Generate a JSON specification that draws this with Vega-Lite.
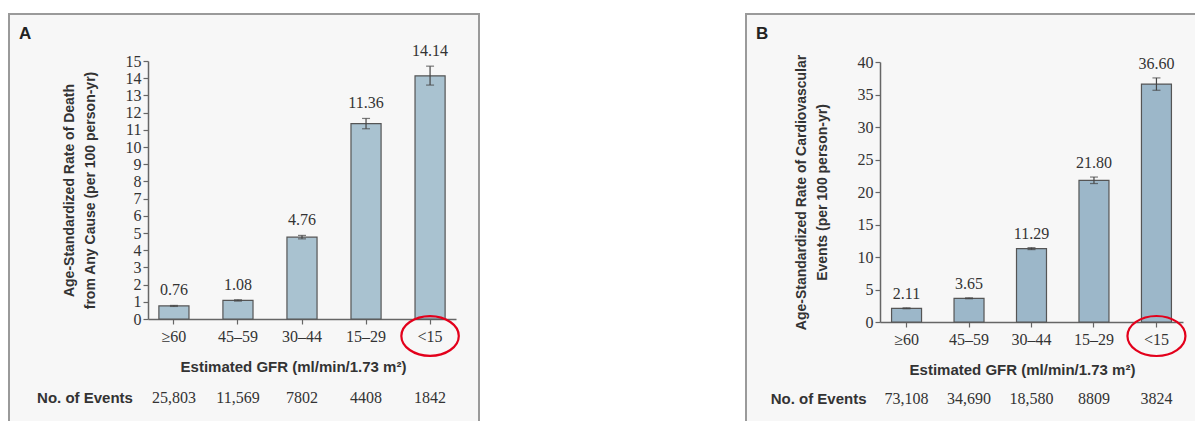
{
  "$schema": "https://vega.github.io/schema/vega-lite/v6.json",
  "background": "white",
  "padding": {"left": 8, "top": 13, "right": 0, "bottom": 0},
  "spacing": 265,
  "datasets": {
    "death": [
      {"gfr": "≥60", "rate": 0.76, "lo": 0.73, "hi": 0.79, "events": "25,803"},
      {"gfr": "45–59", "rate": 1.08, "lo": 1.04, "hi": 1.12, "events": "11,569"},
      {"gfr": "30–44", "rate": 4.76, "lo": 4.66, "hi": 4.86, "events": "7802"},
      {"gfr": "15–29", "rate": 11.36, "lo": 11.06, "hi": 11.66, "events": "4408"},
      {"gfr": "<15", "rate": 14.14, "lo": 13.6, "hi": 14.7, "events": "1842"}
    ],
    "cv": [
      {"gfr": "≥60", "rate": 2.11, "lo": 2.04, "hi": 2.18, "events": "73,108"},
      {"gfr": "45–59", "rate": 3.65, "lo": 3.58, "hi": 3.72, "events": "34,690"},
      {"gfr": "30–44", "rate": 11.29, "lo": 11.14, "hi": 11.44, "events": "18,580"},
      {"gfr": "15–29", "rate": 21.8, "lo": 21.3, "hi": 22.3, "events": "8809"},
      {"gfr": "<15", "rate": 36.6, "lo": 35.65, "hi": 37.55, "events": "3824"}
    ]
  },
  "config": {
    "font": "Liberation Sans",
    "axis": {
      "labelFont": "Liberation Serif", "labelFontSize": 16, "labelColor": "#333",
      "titleFont": "Liberation Sans", "titleFontSize": 14, "titleFontWeight": "bold", "titleColor": "#333",
      "domainColor": "#666", "tickColor": "#666", "domainWidth": 1.5, "tickWidth": 1.2, "grid": false
    }
  },
  "hconcat": [
    {
      "width": 470, "height": 408,
      "view": {"fill": "#f7f7f7", "stroke": "#9a9a9a", "strokeWidth": 2},
      "title": {"text": "A", "anchor": "start", "frame": "group", "offset": -29, "dx": 10, "fontSize": 17, "fontWeight": "bold", "color": "#222", "font": "Liberation Sans"},
      "data": {"name": "death"},
      "encoding": {
        "x": {
          "field": "gfr", "type": "nominal", "sort": null,
          "scale": {"range": [139, 447], "paddingInner": 0.53, "paddingOuter": 0.17},
          "axis": {"title": "Estimated GFR (ml/min/1.73 m²)", "offset": -103, "labelAngle": 0, "tickSize": 5, "labelPadding": 4, "bandPosition": 0.5,
                   "titleX": 284, "titleY": 47, "titleBaseline": "middle", "titleAlign": "center", "titleFontSize": 15}
        }
      },
      "layer": [
        {
          "mark": {"type": "bar", "fill": "#a9c2d0", "stroke": "#555", "strokeWidth": 1.2},
          "encoding": {
            "y": {"field": "rate", "type": "quantitative",
                  "scale": {"domain": [0, 15], "range": [305, 47], "nice": false},
                  "axis": {"title": ["Age-Standardized Rate of Death", "from Any Cause (per 100 person-yr)"], "offset": -139,
                           "values": [0,1,2,3,4,5,6,7,8,9,10,11,12,13,14,15], "tickCount": 20, "labelOverlap": false, "tickSize": 5, "labelPadding": 2, "titlePadding": 28, "titleLineHeight": 21}}
          }
        },
        {"mark": {"type": "rule", "color": "#444", "strokeWidth": 1.2},
         "encoding": {"y": {"field": "lo", "type": "quantitative"}, "y2": {"field": "hi"}}},
        {"mark": {"type": "tick", "color": "#444", "size": 8, "thickness": 1.2},
         "encoding": {"y": {"field": "hi", "type": "quantitative"}}},
        {"mark": {"type": "tick", "color": "#444", "size": 8, "thickness": 1.2},
         "encoding": {"y": {"field": "lo", "type": "quantitative"}}},
        {"mark": {"type": "text", "baseline": "middle", "dy": -15, "font": "Liberation Serif", "fontSize": 16, "color": "#333"},
         "encoding": {"y": {"field": "hi", "type": "quantitative"}, "text": {"field": "rate", "type": "quantitative", "format": ".2f"}}},
        {"mark": {"type": "text", "baseline": "middle", "dy": 79, "font": "Liberation Serif", "fontSize": 16, "color": "#333"},
         "encoding": {"y": {"datum": 0}, "text": {"field": "events", "type": "nominal"}}},
        {"data": {"values": [{"gfr": "≥60", "label": "No. of Events"}]},
         "mark": {"type": "text", "align": "right", "baseline": "middle", "dx": -41, "dy": 79, "font": "Liberation Sans", "fontWeight": "bold", "fontSize": 15, "color": "#333"},
         "encoding": {"y": {"datum": 0}, "text": {"field": "label", "type": "nominal"}}},
        {"data": {"values": [{"gfr": "<15", "note": "highlighted"}]},
         "mark": {"type": "point", "shape": "M -1 0 C -1 -0.381 -0.5523 -0.69 0 -0.69 C 0.5523 -0.69 1 -0.381 1 0 C 1 0.381 0.5523 0.69 0 0.69 C -0.5523 0.69 -1 0.381 -1 0 Z",
                  "size": 3300, "filled": false, "color": "#e3001b", "strokeWidth": 2.2, "opacity": 1, "yOffset": 17},
         "encoding": {"y": {"datum": 0}}}
      ]
    },
    {
      "width": 452, "height": 408,
      "view": {"fill": "#f7f7f7", "stroke": "#9a9a9a", "strokeWidth": 2},
      "title": {"text": "B", "anchor": "start", "frame": "group", "offset": -29, "dx": 10, "fontSize": 17, "fontWeight": "bold", "color": "#222", "font": "Liberation Sans"},
      "data": {"name": "cv"},
      "encoding": {
        "x": {
          "field": "gfr", "type": "nominal", "sort": null,
          "scale": {"range": [134, 437], "paddingInner": 0.52, "paddingOuter": 0.185},
          "axis": {"title": "Estimated GFR (ml/min/1.73 m²)", "offset": -100, "labelAngle": 0, "tickSize": 5, "labelPadding": 4, "bandPosition": 0.5,
                   "titleX": 276, "titleY": 47, "titleBaseline": "middle", "titleAlign": "center", "titleFontSize": 15}
        }
      },
      "layer": [
        {
          "mark": {"type": "bar", "fill": "#9cb7c9", "stroke": "#555", "strokeWidth": 1.2},
          "encoding": {
            "y": {"field": "rate", "type": "quantitative",
                  "scale": {"domain": [0, 40], "range": [308, 48], "nice": false},
                  "axis": {"title": ["Age-Standardized Rate of Cardiovascular", "Events (per 100 person-yr)"], "offset": -134,
                           "values": [0,5,10,15,20,25,30,35,40], "tickCount": 20, "labelOverlap": false, "tickSize": 5, "labelPadding": 2, "titlePadding": 28, "titleLineHeight": 21}}
          }
        },
        {"mark": {"type": "rule", "color": "#444", "strokeWidth": 1.2},
         "encoding": {"y": {"field": "lo", "type": "quantitative"}, "y2": {"field": "hi"}}},
        {"mark": {"type": "tick", "color": "#444", "size": 8, "thickness": 1.2},
         "encoding": {"y": {"field": "hi", "type": "quantitative"}}},
        {"mark": {"type": "tick", "color": "#444", "size": 8, "thickness": 1.2},
         "encoding": {"y": {"field": "lo", "type": "quantitative"}}},
        {"mark": {"type": "text", "baseline": "middle", "dy": -14, "font": "Liberation Serif", "fontSize": 16, "color": "#333"},
         "encoding": {"y": {"field": "hi", "type": "quantitative"}, "text": {"field": "rate", "type": "quantitative", "format": ".2f"}}},
        {"mark": {"type": "text", "baseline": "middle", "dy": 77, "font": "Liberation Serif", "fontSize": 16, "color": "#333"},
         "encoding": {"y": {"datum": 0}, "text": {"field": "events", "type": "nominal"}}},
        {"data": {"values": [{"gfr": "≥60", "label": "No. of Events"}]},
         "mark": {"type": "text", "align": "right", "baseline": "middle", "dx": -40, "dy": 77, "font": "Liberation Sans", "fontWeight": "bold", "fontSize": 15, "color": "#333"},
         "encoding": {"y": {"datum": 0}, "text": {"field": "label", "type": "nominal"}}},
        {"data": {"values": [{"gfr": "<15", "note": "highlighted"}]},
         "mark": {"type": "point", "shape": "M -1 0 C -1 -0.381 -0.5523 -0.69 0 -0.69 C 0.5523 -0.69 1 -0.381 1 0 C 1 0.381 0.5523 0.69 0 0.69 C -0.5523 0.69 -1 0.381 -1 0 Z",
                  "size": 3364, "filled": false, "color": "#e3001b", "strokeWidth": 2.2, "opacity": 1, "yOffset": 14},
         "encoding": {"y": {"datum": 0}}}
      ]
    }
  ]
}
